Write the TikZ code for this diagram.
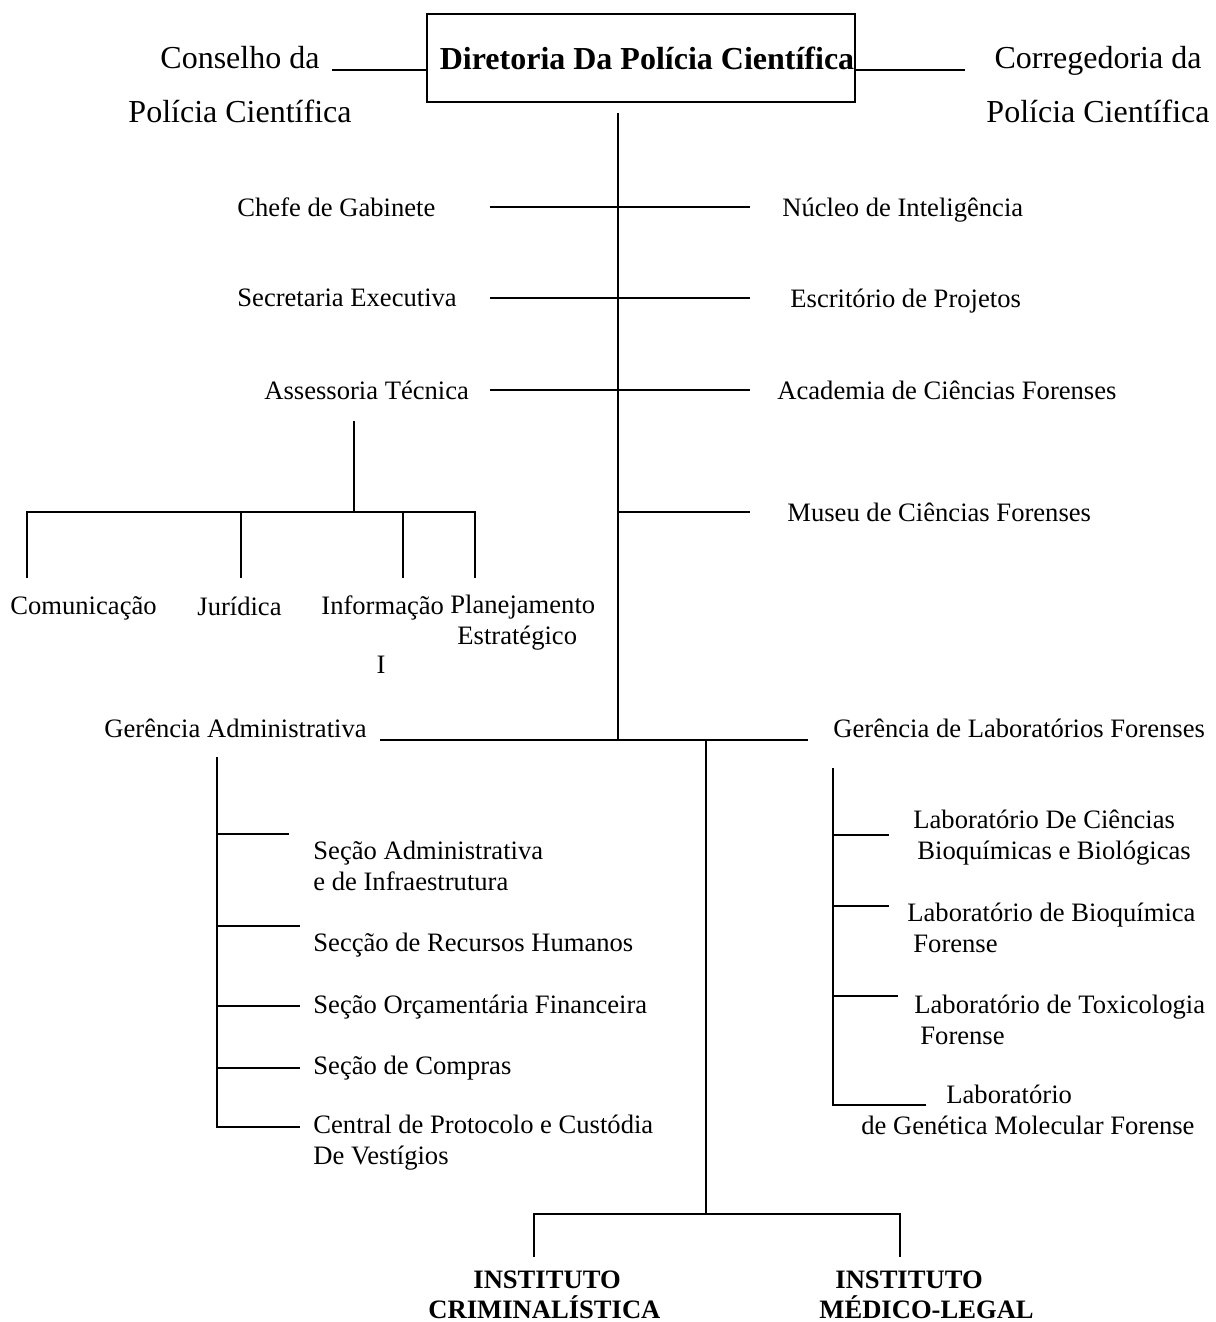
\documentclass[tikz,border=0pt]{standalone}
\usepackage{fontspec}
\setmainfont{Liberation Serif}
\usepackage{tikz}

\begin{document}
\begin{tikzpicture}[
          x=0.5pt, y=-0.5pt,
          % Estilo da caixa da diretoria
          caixa/.style={
              draw,
              rectangle,
              minimum width=214pt,
              minimum height=44pt,
              line width=1.3pt,
              inner sep=0pt,
              font=\bfseries\fontsize{16}{19}\selectfont
          },
          % Estilo dos textos ao lado da caixa
          topo/.style={
              align=center,
              inner sep=0pt,
              font=\fontsize{16}{27}\selectfont
          },
          % Estilo dos setores
          rotulo/.style={
              anchor=west,
              align=left,
              inner sep=0pt,
              font=\fontsize{13.3}{15.5}\selectfont
          },
          % Estilo dos institutos
          instituto/.style={
              anchor=west,
              align=left,
              inner sep=0pt,
              font=\bfseries\fontsize{13.3}{15}\selectfont
          },
          % Estilo das linhas do organograma
          linha/.style={
              line width=1.3pt
          }
      ]

          \useasboundingbox (0,0) rectangle (1215,1322);

          % 1. Diretoria e orgaos ao lado
          \node [caixa] (diretoria) at (641,58) {\hspace*{6pt}Diretoria Da Polícia Científica};
          \node [topo] (conselho) at (240,85) {Conselho da\\Polícia Científica};
          \node [topo] (corregedoria) at (1098,85) {Corregedoria da\\Polícia Científica};

          % 2. Setores ligados ao tronco
          \node [rotulo] (chefe) at (237,207) {Chefe de Gabinete};
          \node [rotulo] (secretaria) at (237,298) {Secretaria Executiva};
          \node [rotulo] (assessoria) at (264,390) {Assessoria Técnica};
          \node [rotulo] (nucleo) at (782,210) {Núcleo de Inteligência};
          \node [rotulo] (escritorio) at (790,301) {Escritório de Projetos};
          \node [rotulo] (academia) at (777,390) {Academia de Ciências Forenses};
          \node [rotulo] (museu) at (787,512) {Museu de Ciências Forenses};

          % 3. Assessorias
          \node [rotulo] (comunicacao) at (10,608) {Comunicação};
          \node [rotulo] (juridica) at (197,606) {Jurídica};
          \node [rotulo] (informacao) at (321,608) {Informação};
          \node [rotulo] (planejamento) at (450,623) {Planejamento\\\hspace*{3.5pt}Estratégico};
          \node [rotulo, anchor=center] (marca) at (381,665) {I};

          % 4. Gerencias
          \node [rotulo] (gerAdm) at (104,728) {Gerência Administrativa};
          \node [rotulo] (gerLab) at (833,728) {Gerência de Laboratórios Forenses};

          \node [rotulo] (secAdm) at (313,866) {Seção Administrativa\\e de Infraestrutura};
          \node [rotulo] (secRH) at (313,945) {Secção de Recursos Humanos};
          \node [rotulo] (secOrc) at (313,1007) {Seção Orçamentária Financeira};
          \node [rotulo] (secCompras) at (313,1068) {Seção de Compras};
          \node [rotulo] (protocolo) at (313,1143) {Central de Protocolo e Custódia\\De Vestígios};

          \node [rotulo] (labBio) at (913,838) {Laboratório De Ciências\\\hspace*{2pt}Bioquímicas e Biológicas};
          \node [rotulo] (labBioq) at (907,928) {Laboratório de Bioquímica\\\hspace*{3pt}Forense};
          \node [rotulo] (labTox) at (914,1020) {Laboratório de Toxicologia\\\hspace*{3pt}Forense};
          \node [rotulo] (labGen) at (861,1110) {\hspace*{42.5pt}Laboratório\\de Genética Molecular Forense};

          % 5. Institutos
          \node [instituto] (instCrim) at (428,1295) {\hspace*{22.5pt}INSTITUTO\\CRIMINALÍSTICA};
          \node [instituto] (instIml) at (819,1295) {\hspace*{8pt}INSTITUTO\\MÉDICO-LEGAL};

          % 6. Linhas do topo e tronco principal
          \coordinate (conselhoFim) at (332,70);
          \coordinate (corregedoriaFim) at (965,70);
          \draw [linha] (conselhoFim) -- (conselhoFim -| diretoria.west);
          \draw [linha] (diretoria.east |- corregedoriaFim) -- (corregedoriaFim);

          \coordinate (troncoTopo) at (618,113);
          \coordinate (troncoBase) at (618,740);
          \draw [linha] (troncoTopo) -- (troncoBase);

          % 7. Ramos horizontais
          \foreach \nome/\y in {chefe/207, secretaria/298, assessoria/390} {
              \coordinate (\nome Esq) at (490,\y);
              \coordinate (\nome Dir) at (750,\y);
              \draw [linha] (\nome Esq) -- (\nome Dir);
          }
          \coordinate (museuEsq) at (618,512);
          \coordinate (museuDir) at (750,512);
          \draw [linha] (museuEsq) -- (museuDir);

          % 8. Ramos da assessoria tecnica
          \coordinate (assessoriaTopo) at (354,421);
          \coordinate (assessoriaBarra) at (354,512);
          \draw [linha] (assessoriaTopo) -- (assessoriaBarra);
          \foreach \x/\n in {27/comunicacao, 241/juridica, 403/informacao, 475/planejamento} {
              \coordinate (\n Ramo) at (\x,512);
              \coordinate (\n Ponta) at (\x,578);
          }
          \draw [linha] (comunicacaoPonta) -- (comunicacaoRamo) -- (planejamentoRamo) -- (planejamentoPonta);
          \draw [linha] (juridicaRamo) -- (juridicaPonta);
          \draw [linha] (informacaoRamo) -- (informacaoPonta);

          % 9. Linha das gerencias e ligacao aos institutos
          \coordinate (gerEsq) at (380,740);
          \coordinate (gerDir) at (808,740);
          \draw [linha] (gerEsq) -- (gerDir);

          \coordinate (instTopo) at (706,740);
          \coordinate (instBarra) at (706,1214);
          \draw [linha] (instTopo) -- (instBarra);
          \coordinate (crimBarra) at (534,1214);
          \coordinate (crimPonta) at (534,1257);
          \coordinate (imlBarra) at (900,1214);
          \coordinate (imlPonta) at (900,1257);
          \draw [linha] (crimPonta) -- (crimBarra) -- (imlBarra) -- (imlPonta);

          % 10. Secoes da gerencia administrativa
          \coordinate (admTopo) at (217,757);
          \foreach \y/\xf/\n in {834/289/1, 926/300/2, 1006/300/3, 1068/300/4, 1127/300/5} {
              \coordinate (adm\n) at (217,\y);
              \coordinate (admFim\n) at (\xf,\y);
          }
          \draw [linha] (admTopo) -- (adm5) -- (admFim5);
          \foreach \n in {1,2,3,4} {
              \draw [linha] (adm\n) -- (admFim\n);
          }

          % 11. Laboratorios
          \coordinate (labTopo) at (833,768);
          \foreach \y/\xf/\n in {835/889/1, 906/889/2, 996/898/3, 1105/926/4} {
              \coordinate (lab\n) at (833,\y);
              \coordinate (labFim\n) at (\xf,\y);
          }
          \draw [linha] (labTopo) -- (lab4) -- (labFim4);
          \foreach \n in {1,2,3} {
              \draw [linha] (lab\n) -- (labFim\n);
          }

      \end{tikzpicture}
\end{document}
